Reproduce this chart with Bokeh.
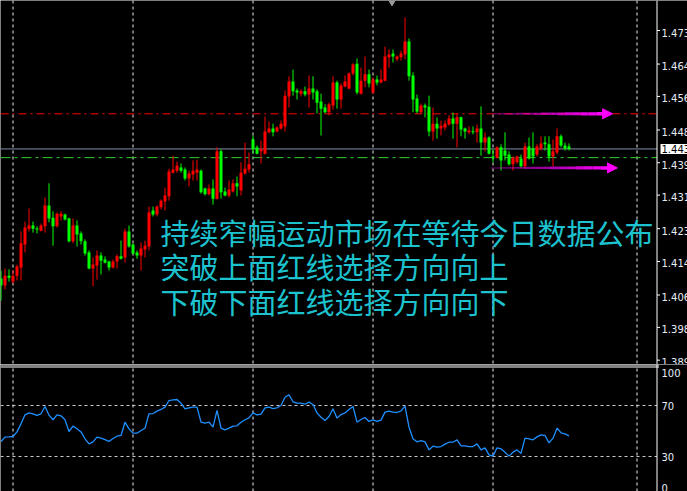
import numpy as np
from bokeh.plotting import figure
from bokeh.models import Range1d, Label, Arrow, NormalHead
from bokeh.layouts import column
from bokeh.embed import file_html
from bokeh.resources import INLINE

# ---- price bars (one per period) ----
opens = [1.4106, 1.4088, 1.4113, 1.4098, 1.4113, 1.4134, 1.4192, 1.4232, 1.4240, 1.4232,
         1.4227, 1.4238, 1.4291, 1.4260, 1.4238, 1.4263, 1.4268, 1.4258, 1.4200, 1.4240,
         1.4220, 1.4200, 1.4172, 1.4131, 1.4139, 1.4164, 1.4154, 1.4149, 1.4134, 1.4149,
         1.4162, 1.4159, 1.4225, 1.4192, 1.4172, 1.4164, 1.4179, 1.4187, 1.4278, 1.4268,
         1.4286, 1.4301, 1.4314, 1.4374, 1.4379, 1.4387, 1.4382, 1.4359, 1.4369, 1.4374,
         1.4379, 1.4334, 1.4319, 1.4334, 1.4308, 1.4428, 1.4326, 1.4316, 1.4326, 1.4347,
         1.4329, 1.4372, 1.4382, 1.4458, 1.4438, 1.4428, 1.4422, 1.4476, 1.4486, 1.4478,
         1.4486, 1.4491, 1.4567, 1.4605, 1.4582, 1.4574, 1.4580, 1.4572, 1.4587, 1.4580,
         1.4554, 1.4539, 1.4527, 1.4544, 1.4602, 1.4559, 1.4592, 1.4587, 1.4625, 1.4650,
         1.4574, 1.4607, 1.4623, 1.4577, 1.4610, 1.4602, 1.4607, 1.4666, 1.4676, 1.4661,
         1.4666, 1.4673, 1.4706, 1.4620, 1.4562, 1.4527, 1.4544, 1.4541, 1.4478, 1.4498,
         1.4486, 1.4488, 1.4496, 1.4511, 1.4498, 1.4514, 1.4486, 1.4476, 1.4478, 1.4476,
         1.4486, 1.4450, 1.4463, 1.4415, 1.4412, 1.4438, 1.4430, 1.4420, 1.4395, 1.4400,
         1.4410, 1.4390, 1.4440, 1.4435, 1.4420, 1.4435, 1.4450, 1.4446, 1.4415, 1.4425,
         1.4466, 1.4443, 1.4440]
highs = [1.4126, 1.4131, 1.4129, 1.4126, 1.4141, 1.4225, 1.4250, 1.4283, 1.4250, 1.4238,
         1.4245, 1.4311, 1.4347, 1.4276, 1.4273, 1.4276, 1.4270, 1.4260, 1.4258, 1.4253,
         1.4225, 1.4205, 1.4177, 1.4159, 1.4177, 1.4172, 1.4162, 1.4151, 1.4154, 1.4167,
         1.4202, 1.4232, 1.4240, 1.4194, 1.4177, 1.4197, 1.4202, 1.4288, 1.4288, 1.4291,
         1.4306, 1.4336, 1.4384, 1.4417, 1.4402, 1.4397, 1.4387, 1.4379, 1.4405, 1.4407,
         1.4382, 1.4336, 1.4344, 1.4357, 1.4438, 1.4433, 1.4336, 1.4354, 1.4357, 1.4364,
         1.4400, 1.4450, 1.4425, 1.4468, 1.4443, 1.4455, 1.4516, 1.4504, 1.4498, 1.4491,
         1.4506, 1.4582, 1.4618, 1.4635, 1.4587, 1.4585, 1.4592, 1.4620, 1.4618, 1.4585,
         1.4574, 1.4547, 1.4551, 1.4618, 1.4607, 1.4600, 1.4620, 1.4628, 1.4651, 1.4663,
         1.4640, 1.4668, 1.4635, 1.4615, 1.4620, 1.4635, 1.4693, 1.4686, 1.4686, 1.4671,
         1.4683, 1.4767, 1.4714, 1.4628, 1.4572, 1.4549, 1.4549, 1.4569, 1.4539, 1.4514,
         1.4506, 1.4506, 1.4519, 1.4526, 1.4524, 1.4516, 1.4488, 1.4491, 1.4491, 1.4496,
         1.4542, 1.4476, 1.4466, 1.4433, 1.4440, 1.4446, 1.4476, 1.4428, 1.4415, 1.4417,
         1.4420, 1.4450, 1.4463, 1.4476, 1.4446, 1.4466, 1.4466, 1.4466, 1.4458, 1.4486,
         1.4471, 1.4450, 1.4448]
lows = [1.4050, 1.4078, 1.4098, 1.4093, 1.4101, 1.4101, 1.4172, 1.4225, 1.4222, 1.4220,
        1.4225, 1.4222, 1.4248, 1.4189, 1.4235, 1.4253, 1.4253, 1.4197, 1.4195, 1.4187,
        1.4192, 1.4164, 1.4129, 1.4086, 1.4103, 1.4116, 1.4144, 1.4126, 1.4131, 1.4131,
        1.4154, 1.4146, 1.4184, 1.4167, 1.4156, 1.4126, 1.4159, 1.4177, 1.4263, 1.4263,
        1.4281, 1.4278, 1.4303, 1.4372, 1.4374, 1.4374, 1.4354, 1.4339, 1.4354, 1.4354,
        1.4321, 1.4316, 1.4316, 1.4293, 1.4306, 1.4308, 1.4314, 1.4311, 1.4324, 1.4314,
        1.4316, 1.4369, 1.4374, 1.4422, 1.4420, 1.4397, 1.4420, 1.4473, 1.4466, 1.4476,
        1.4483, 1.4478, 1.4539, 1.4569, 1.4559, 1.4567, 1.4567, 1.4539, 1.4559, 1.4524,
        1.4468, 1.4524, 1.4519, 1.4534, 1.4536, 1.4536, 1.4590, 1.4585, 1.4620, 1.4572,
        1.4572, 1.4590, 1.4590, 1.4574, 1.4595, 1.4600, 1.4605, 1.4640, 1.4653, 1.4656,
        1.4658, 1.4661, 1.4607, 1.4527, 1.4524, 1.4524, 1.4514, 1.4466, 1.4455, 1.4460,
        1.4468, 1.4481, 1.4493, 1.4460, 1.4438, 1.4466, 1.4460, 1.4471, 1.4471, 1.4450,
        1.4417, 1.4428, 1.4420, 1.4400, 1.4410, 1.4379, 1.4405, 1.4392, 1.4379, 1.4397,
        1.4387, 1.4384, 1.4407, 1.4397, 1.4415, 1.4430, 1.4430, 1.4402, 1.4390, 1.4420,
        1.4438, 1.4430, 1.4430]
closes = [1.4088, 1.4113, 1.4108, 1.4113, 1.4136, 1.4195, 1.4235, 1.4240, 1.4232, 1.4230,
          1.4240, 1.4291, 1.4258, 1.4238, 1.4270, 1.4270, 1.4255, 1.4200, 1.4240, 1.4217,
          1.4200, 1.4169, 1.4131, 1.4141, 1.4164, 1.4151, 1.4146, 1.4134, 1.4149, 1.4162,
          1.4156, 1.4225, 1.4187, 1.4169, 1.4164, 1.4182, 1.4189, 1.4273, 1.4268, 1.4288,
          1.4303, 1.4316, 1.4377, 1.4382, 1.4392, 1.4379, 1.4359, 1.4372, 1.4379, 1.4382,
          1.4324, 1.4319, 1.4334, 1.4308, 1.4428, 1.4324, 1.4316, 1.4331, 1.4347, 1.4339,
          1.4374, 1.4384, 1.4395, 1.4433, 1.4422, 1.4433, 1.4478, 1.4486, 1.4476, 1.4488,
          1.4498, 1.4569, 1.4605, 1.4580, 1.4577, 1.4580, 1.4572, 1.4587, 1.4577, 1.4551,
          1.4536, 1.4527, 1.4547, 1.4602, 1.4559, 1.4595, 1.4605, 1.4625, 1.4648, 1.4577,
          1.4607, 1.4623, 1.4600, 1.4610, 1.4602, 1.4610, 1.4668, 1.4673, 1.4668, 1.4668,
          1.4676, 1.4706, 1.4618, 1.4559, 1.4529, 1.4544, 1.4539, 1.4478, 1.4498, 1.4486,
          1.4493, 1.4498, 1.4511, 1.4498, 1.4514, 1.4483, 1.4478, 1.4481, 1.4476, 1.4486,
          1.4450, 1.4463, 1.4422, 1.4412, 1.4438, 1.4405, 1.4417, 1.4395, 1.4412, 1.4415,
          1.4390, 1.4440, 1.4410, 1.4415, 1.4440, 1.4448, 1.4446, 1.4415, 1.4428, 1.4466,
          1.4443, 1.4435, 1.4434]

# ---- oscillator (0..100) ----
rsi = [41.8, 45.2, 45.4, 45.7, 49.3, 55.6, 62.7, 64.2, 63.5, 62.2,
       63.5, 69.2, 62.4, 58.8, 62.7, 61.9, 58.8, 49.6, 53.8, 51.7,
       49.3, 43.9, 39.9, 41.5, 45.2, 44.4, 43.3, 41.8, 44.1, 45.9,
       46.5, 56.9, 51.7, 48.3, 48.3, 50.4, 52.2, 63.5, 63.7, 65.6,
       66.9, 68.7, 73.9, 74.4, 74.7, 71.8, 67.4, 68.2, 68.7, 68.7,
       56.9, 56.1, 56.9, 53.0, 66.1, 52.2, 50.9, 52.2, 53.8, 54.1,
       56.9, 58.8, 60.3, 64.2, 62.7, 63.2, 68.2, 68.7, 67.6, 68.2,
       70.0, 76.5, 78.4, 72.9, 71.8, 71.8, 71.0, 72.6, 70.8, 64.2,
       60.8, 58.2, 61.4, 67.4, 60.1, 62.9, 64.2, 66.9, 69.2, 56.9,
       59.0, 60.6, 57.5, 58.8, 57.5, 58.5, 64.8, 65.6, 64.8, 64.5,
       65.8, 69.5, 53.0, 43.9, 41.5, 42.5, 41.5, 35.2, 38.1, 37.3,
       37.8, 39.7, 41.2, 41.2, 43.1, 38.4, 38.4, 37.8, 37.8, 39.9,
       35.2, 36.8, 31.3, 30.3, 36.8, 36.0, 33.4, 30.3, 33.4, 35.2,
       32.4, 44.4, 43.9, 43.1, 45.4, 47.0, 46.5, 40.7, 44.4, 52.2,
       48.6, 47.8, 46.2]

price_ticks = [1.4734, 1.4649, 1.4567, 1.4482, 1.4399, 1.4317,
               1.4232, 1.4149, 1.4064, 1.3982, 1.3899]
rsi_ticks = [100, 70, 30, 0]
rsi_levels = [70, 30]
bid_price = 1.4434
upper_line = 1.4523
lower_line = 1.4412
period_breaks = [3, 33, 63, 93, 123, 159]
notes = ["持续窄幅运动市场在等待今日数据公布",
         "突破上面红线选择方向向上",
         "下破下面红线选择方向向下"]

# ---- geometry / style ----
W = 687
BAR_PX = 4
X0 = -0.125
X1 = X0 + W / BAR_PX
AXIS_X = 164.0            # scale line, in bar units
PX = 0.0002533            # price per screen pixel
P_TOP = 1.4810
MAIN_H = 364
RSI_H = 491 - MAIN_H
RSI_PX = 1.275            # oscillator pixels per unit

UP = "#FF0000"
DOWN = "#00FF00"
LABEL_C = "#E6EEF6"
GRID_C = "#F0F0F0"
NOTE_C = "#1CC2CE"
MAGENTA = "#FF00FF"


def base_fig(height, y_range, x_range):
    f = figure(width=W, height=height, x_range=x_range, y_range=y_range,
               output_backend="svg", toolbar_location=None,
               x_axis_location=None, y_axis_location=None,
               min_border=0, background_fill_color="black",
               border_fill_color="black", outline_line_color=None)
    f.grid.visible = False
    return f


P_BOT = P_TOP - MAIN_H * PX
main = base_fig(MAIN_H, Range1d(P_BOT, P_TOP), Range1d(X0, X1))

idx = np.arange(len(opens))
o = np.array(opens); h = np.array(highs); l = np.array(lows); c = np.array(closes)
colors = [UP if cc >= oo else DOWN for oo, cc in zip(o, c)]

# period separators
for b in period_breaks:
    main.segment(b, P_TOP, b, P_BOT, line_color=GRID_C,
                 line_width=1, line_dash="3 3")

# horizontal levels (stop at the price scale)
main.segment(X0, upper_line, AXIS_X, upper_line, line_color="#FF0000",
             line_width=1, line_dash="8 4 2 4")
main.segment(X0, lower_line, AXIS_X, lower_line, line_color="#32CD32",
             line_width=1, line_dash="10 4 3 4")
main.segment(X0, bid_price, AXIS_X, bid_price, line_color="#7F8FA6", line_width=1)

# candles
main.segment(idx, h, idx, l, line_color=colors, line_width=1)
body_bot = np.minimum(o, c)
body_top = np.maximum(np.maximum(o, c), body_bot + PX)
main.vbar(x=idx, width=0.75, top=body_top, bottom=body_bot,
          fill_color=colors, line_color=None)

# chart shift marker
main.scatter([97.75], [P_TOP - 0.8 * PX], marker="inverted_triangle", size=8,
             fill_color="#9A9A9A", line_color="#9A9A9A")

# magenta arrows
for xs, xe, lvl in [(123.1, 152.9, upper_line), (122.4, 154.1, 1.4386)]:
    n = 14
    edges = np.linspace(xs, xe - 2.0, n + 1)
    t = np.linspace(0, 1, n)
    main.segment(edges[:-1], [lvl] * n, edges[1:], [lvl] * n,
                 line_color=MAGENTA, line_alpha=list(0.3 + 0.7 * t),
                 line_width=list(1.5 + 2.0 * t))
    main.add_layout(Arrow(end=NormalHead(size=10, fill_color=MAGENTA,
                                         line_color=MAGENTA, line_width=1),
                          x_start=xe - 2.5, y_start=lvl, x_end=xe, y_end=lvl,
                          line_color=MAGENTA, line_width=3))

# note text
for k, txt in enumerate(notes):
    main.add_layout(Label(x=160, x_units="screen",
                          y=P_TOP - (231.5 + 34.3 * k) * PX, text=txt,
                          text_baseline="middle", text_color=NOTE_C,
                          text_font="Noto Sans CJK SC", text_font_size="29px"))

# price scale
main.segment(AXIS_X, P_TOP, AXIS_X, P_BOT, line_color="white", line_width=1)
main.segment([AXIS_X] * len(price_ticks), price_ticks,
             [AXIS_X + 0.75] * len(price_ticks), price_ticks,
             line_color="white", line_width=1)
for pt in price_ticks:
    main.add_layout(Label(x=661, x_units="screen", y=pt, y_offset=-2,
                          text=f"{pt:.4f}", text_baseline="middle",
                          text_color=LABEL_C, text_font="DejaVu Sans",
                          text_font_size="10px"))
main.add_layout(Label(x=660, x_units="screen", y=bid_price, text=f"{bid_price:.4f}",
                      text_baseline="middle", text_color="black",
                      text_font="DejaVu Sans", text_font_size="10px",
                      background_fill_color="white", padding=1))

# ---- oscillator window ----
R_LO = 70 - (491 - 405) / RSI_PX
R_HI = 70 + (405 - MAIN_H) / RSI_PX
osc = base_fig(RSI_H, Range1d(R_LO, R_HI), main.x_range)

# double rule along the top edge of the window (pixel rows 0 and 2)
for r in (0.5, 2.5):
    yv = R_HI - r / RSI_PX
    osc.segment(X0, yv, AXIS_X + 0.5, yv, line_color="white", line_width=1)
for b in period_breaks:
    osc.segment(b, R_LO, b, R_HI - 3 / RSI_PX, line_color=GRID_C,
                line_width=1, line_dash="3 3")
for lv in rsi_levels:
    osc.segment(X0, lv, AXIS_X, lv, line_color="#C8C8C8", line_width=1, line_dash="3 3")
osc.line(idx, rsi, line_color="#1E90FF", line_width=1.3)

osc.segment(AXIS_X, R_LO, AXIS_X, R_HI, line_color="white", line_width=1)
# scale labels: end labels are pulled inside the window edges
label_pos = {100: (100, -6), 70: (70, 0), 30: (30, 0), 0: (R_LO, 3.5)}
for tv in rsi_ticks:
    yv, off = label_pos[tv]
    osc.add_layout(Label(x=661, x_units="screen", y=yv, y_offset=off,
                         text=str(tv), text_baseline="middle", text_color=LABEL_C,
                         text_font="DejaVu Sans", text_font_size="10px"))

layout = column(main, osc, spacing=0)
open("out.html", "w").write(file_html(layout, INLINE))
